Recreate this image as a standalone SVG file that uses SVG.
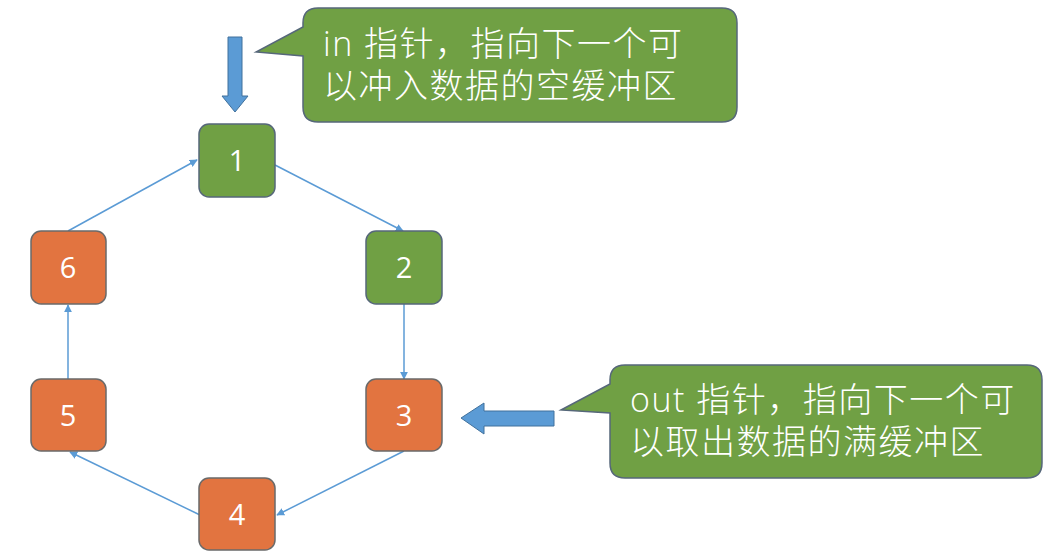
<svg xmlns="http://www.w3.org/2000/svg" width="1056" height="558" viewBox="0 0 1056 558">
<style>
.g{fill:#70a044;stroke:#56677a;stroke-width:1.5}
.o{fill:#e27440;stroke:#6a6a6a;stroke-width:1.5}
.n{font-family:"Open Sans","Liberation Sans",sans-serif;font-size:29px;fill:#ffffff;text-anchor:middle}
.c{font-family:"Open Sans","Noto Sans CJK SC",sans-serif;font-size:34px;font-weight:300;fill:#ffffff;letter-spacing:1.5px}
.ln{stroke:#5b9bd5;stroke-width:1.5;fill:none;marker-end:url(#ah)}
.ba{fill:#5b9bd5;stroke:#41719c;stroke-width:1}
.cb{fill:#70a044;stroke:#56677a;stroke-width:1.5}
</style>
<defs>
<marker id="ah" viewBox="0 0 10 10" refX="9" refY="5" markerWidth="8" markerHeight="8" markerUnits="userSpaceOnUse" orient="auto">
<path d="M0,0 L10,5 L0,10 z" fill="#5b9bd5"/>
</marker>
</defs>
<rect width="1056" height="558" fill="#ffffff"/>
<g id="connectors">
<line class="ln" x1="275" y1="165" x2="403" y2="231"/>
<line class="ln" x1="404" y1="304" x2="404" y2="379"/>
<line class="ln" x1="404" y1="451" x2="277" y2="515"/>
<line class="ln" x1="200" y1="515" x2="70" y2="452"/>
<line class="ln" x1="68" y1="379" x2="68" y2="305"/>
<line class="ln" x1="68" y1="231" x2="197" y2="160"/>
</g>
<g id="node1"><rect class="g" x="199" y="124" width="76" height="73" rx="10"/><text class="n" x="237" y="171">1</text></g>
<g id="node2"><rect class="g" x="366" y="231" width="76" height="73" rx="10"/><text class="n" x="404" y="278">2</text></g>
<g id="node3"><rect class="o" x="366" y="379" width="76" height="72" rx="10"/><text class="n" x="404" y="426">3</text></g>
<g id="node4"><rect class="o" x="199" y="478" width="76" height="72" rx="10"/><text class="n" x="237" y="525">4</text></g>
<g id="node5"><rect class="o" x="31" y="379" width="75" height="72" rx="10"/><text class="n" x="68" y="426">5</text></g>
<g id="node6"><rect class="o" x="31" y="231" width="75" height="73" rx="10"/><text class="n" x="68" y="278">6</text></g>
<g id="in-arrow"><path class="ba" d="M228,37 L242,37 L242,96 L248,96 L235,112 L222,96 L228,96 z"/></g>
<g id="out-arrow"><path class="ba" d="M554,411 L554,426 L484,426 L484,434 L461,418 L484,403 L484,411 z"/></g>
<g id="in-callout">
<path class="cb" d="M318,8 L722,8 Q737,8 737,23 L737,107 Q737,122 722,122 L318,122 Q303,122 303,107 L303,56 L256,52 L303,27 L303,23 Q303,8 318,8 z"/>
<text class="c" x="323" y="56">in 指针，指向下一个可</text>
<text class="c" x="323" y="98">以冲入数据的空缓冲区</text>
</g>
<g id="out-callout">
<path class="cb" d="M625,365 L1027,365 Q1042,365 1042,380 L1042,463 Q1042,478 1027,478 L625,478 Q610,478 610,463 L610,413 L561,410 L610,384 L610,380 Q610,365 625,365 z"/>
<text class="c" x="630" y="412">out 指针，指向下一个可</text>
<text class="c" x="630" y="454">以取出数据的满缓冲区</text>
</g>
</svg>
